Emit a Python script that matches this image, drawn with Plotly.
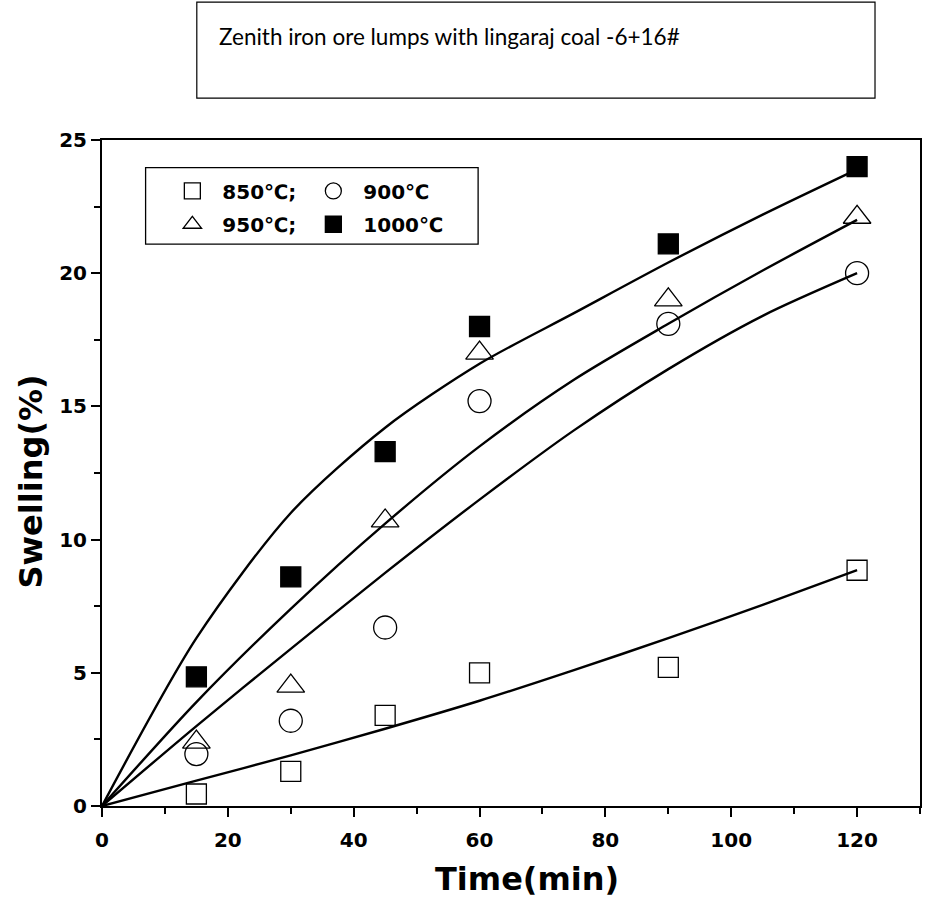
import plotly.graph_objects as go

# ---- data ----
time_pts = [15, 30, 45, 60, 90, 120]
sw_850 = [0.45, 1.3, 3.4, 5.0, 5.2, 8.85]
sw_900 = [1.95, 3.2, 6.7, 15.2, 18.1, 20.0]
sw_950 = [2.4, 4.5, 10.7, 17.0, 19.0, 22.1]
sw_1000 = [4.85, 8.6, 13.3, 18.0, 21.1, 24.0]

# fitted curves
fit_t = [0, 15, 30, 45, 60, 75, 90, 105, 120]
fit_850 = [0, 0.95, 1.9, 2.9, 3.95, 5.1, 6.3, 7.55, 8.85]
fit_900 = [0, 3.0, 5.9, 8.75, 11.5, 14.1, 16.4, 18.4, 20.0]
fit_950 = [0, 3.9, 7.4, 10.6, 13.5, 16.0, 18.1, 20.1, 22.0]
fit_1000 = [0, 6.3, 11.0, 14.2, 16.6, 18.5, 20.4, 22.2, 23.9]

labels = ["\u2002850\u2103;", "\u2002900\u2103", "\u2002950\u2103;", "\u20021000\u2103"]
x_ticks = [0, 20, 40, 60, 80, 100, 120]
y_ticks = [0, 5, 10, 15, 20, 25]

fig = go.Figure()

for fy in [fit_850, fit_900, fit_950, fit_1000]:
    fig.add_trace(go.Scatter(x=fit_t, y=fy, mode="lines",
                             line=dict(color="black", width=2.4, shape="spline", smoothing=0.8),
                             showlegend=False, hoverinfo="skip"))

marker_specs = [
    (sw_850, "square-open", 20, "legend"),
    (sw_900, "circle-open", 23, "legend"),
    (sw_950, "triangle-up-open", 24, "legend2"),
    (sw_1000, "square", 20, "legend2"),
]
for (vals, sym, size, lg), name in zip(marker_specs, labels):
    fig.add_trace(go.Scatter(x=time_pts, y=vals, mode="markers", name=name,
                             marker=dict(symbol=sym, size=size, color="black",
                                         line=dict(color="black", width=1.3)),
                             legend=lg))

axis_font = dict(family="DejaVu Sans", size=20, color="black", weight="bold")
title_font = dict(family="DejaVu Sans", size=32, color="black", weight="bold")
legend_font = dict(family="DejaVu Sans", size=20, color="black", weight="bold")

fig.update_layout(
    width=926, height=912,
    margin=dict(l=102, r=4, t=140, b=106),
    paper_bgcolor="white", plot_bgcolor="white",
    xaxis=dict(range=[0, 130], tickvals=x_ticks, showline=True, mirror=True,
               linecolor="black", linewidth=2, ticks="outside", ticklen=9, tickwidth=2,
               tickcolor="black", showgrid=False, zeroline=False, ticklabelstandoff=6,
               minor=dict(dtick=10, ticks="outside", ticklen=6, tickwidth=2, tickcolor="black"),
               tickfont=axis_font),
    yaxis=dict(range=[0, 25], tickvals=y_ticks, showline=True, mirror=True,
               linecolor="black", linewidth=2, ticks="outside", ticklen=9, tickwidth=2,
               tickcolor="black", showgrid=False, zeroline=False,
               minor=dict(dtick=2.5, ticks="outside", ticklen=6, tickwidth=2, tickcolor="black"),
               tickfont=axis_font),
    legend=dict(orientation="h", x=0.086, y=0.9235, xanchor="left", yanchor="middle",
                bgcolor="rgba(0,0,0,0)", borderwidth=0, entrywidth=96, itemsizing="trace",
                font=legend_font),
    legend2=dict(orientation="h", x=0.086, y=0.8735, xanchor="left", yanchor="middle",
                 bgcolor="rgba(0,0,0,0)", borderwidth=0, entrywidth=96, itemsizing="trace",
                 font=legend_font),
    shapes=[
        dict(type="rect", xref="paper", yref="paper", x0=0.0533, x1=0.4598, y0=0.8438, y1=0.9584,
             line=dict(color="black", width=1.3), fillcolor="rgba(0,0,0,0)"),
        dict(type="rect", xref="paper", yref="paper", x0=0.1159, x1=0.945, y0=1.063, y1=1.207,
             line=dict(color="black", width=1.2), fillcolor="rgba(0,0,0,0)"),
    ],
    annotations=[
        dict(text="Zenith iron ore lumps with lingaraj coal -6+16#", xref="paper", yref="paper",
             x=0.140, y=1.155, xanchor="left", yanchor="middle", showarrow=False,
             font=dict(family="Lato", size=22.5, color="black")),
        dict(text="Time(min)", xref="paper", yref="paper", x=0.5195, y=-0.110,
             xanchor="center", yanchor="middle", showarrow=False, font=title_font),
        dict(text="Swelling(%)", xref="paper", yref="paper", x=-0.087, y=0.487,
             xanchor="center", yanchor="middle", textangle=-90, showarrow=False, font=title_font),
    ],
)

fig.write_html("out.html", config={"displayModeBar": False},
               post_script="document.body.style.margin='0px';")
